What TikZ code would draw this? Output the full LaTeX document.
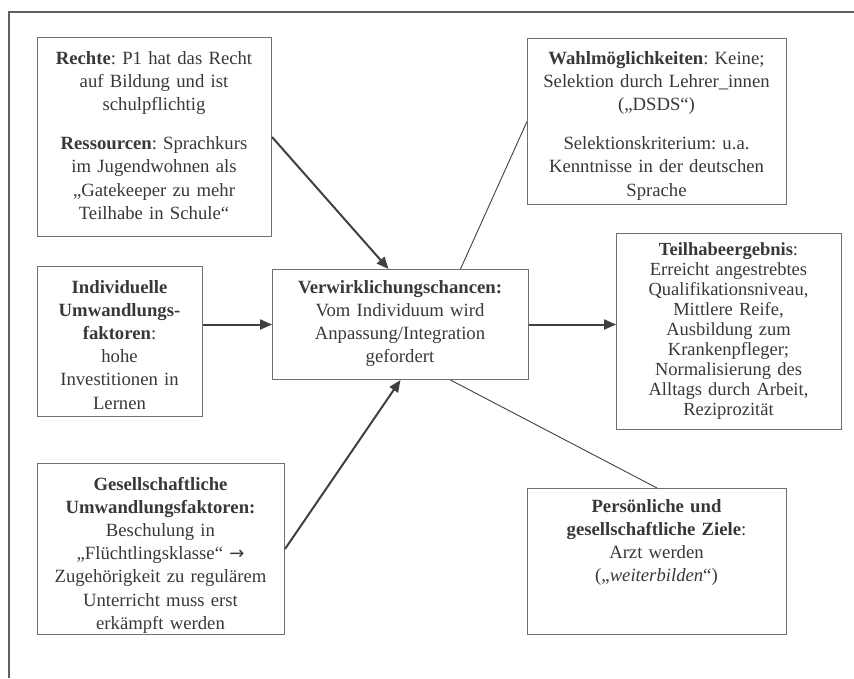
\documentclass[tikz,border=0pt]{standalone}
\usepackage{fontspec}
\setmainfont{Liberation Serif}
\newfontfamily\symfont{DejaVu Sans}
\usetikzlibrary{arrows.meta,calc}
\definecolor{txtc}{HTML}{383838}
\definecolor{boxc}{HTML}{707070}
\definecolor{arrc}{HTML}{404040}
\definecolor{framec}{HTML}{606060}
\frenchspacing
\begin{document}
\begin{tikzpicture}[x=1pt,y=-1pt,
  box/.style={draw=boxc, line width=1pt, inner sep=0pt, anchor=north west},
  txt/.style={text=txtc, align=center, inner sep=0pt, font=\fontsize{18.7}{23.2}\selectfont, anchor=base},
  tighttxt/.style={txt, font=\fontsize{18.5}{20.1}\selectfont},
  arr/.style={draw=arrc, line width=2pt, -{Triangle[length=12pt,width=10pt]}},
  thinline/.style={draw=arrc, line width=0.9pt}]
\useasboundingbox (0,0) rectangle (854,678);
\draw[framec, line width=1.6pt] (9,678) -- (9,12) -- (854,12);

% boxes
\node[box, minimum width=234pt, minimum height=199pt] (r) at (37,37) {};
\node[box, minimum width=259pt, minimum height=166pt] (w) at (527,38) {};
\node[box, minimum width=165pt, minimum height=150pt] (i) at (37,266) {};
\node[box, minimum width=256pt, minimum height=110pt] (c) at (272,269) {};
\node[box, minimum width=225pt, minimum height=196pt] (t) at (616,233) {};
\node[box, minimum width=247pt, minimum height=171pt] (g) at (37,463) {};
\node[box, minimum width=259pt, minimum height=146pt] (p) at (527,488) {};

% texts
\node[txt, text width=230pt] (rt) at (154,64) {\textbf{Rechte}: P1 hat das Recht\\ auf Bildung und ist\\ schulpflichtig\\[16pt]
\textbf{Ressourcen}: Sprachkurs\\ im Jugendwohnen als\\ „Gatekeeper zu mehr\\ Teilhabe in Schule“};
\node[txt, text width=255pt] (wt) at (656.5,64) {\textbf{Wahlmöglichkeiten}: Keine;\\ Selektion durch Lehrer\_innen\\ („DSDS“)\\[16pt]
Selektionskriterium: u.a.\\ Kenntnisse in der deutschen\\ Sprache};
\node[txt, text width=160pt] (it) at (119.5,293) {\textbf{Individuelle}\\ \textbf{Umwandlungs-}\\ \textbf{faktoren}:\\ hohe\\ Investitionen in\\ Lernen};
\node[txt, text width=250pt] (ct) at (400,293) {\textbf{Verwirklichungschancen:}\\ Vom Individuum wird\\ Anpassung/Integration\\ gefordert};
\node[tighttxt, text width=220pt] (tt) at (728.5,255) {\textbf{Teilhabeergebnis}:\\ Erreicht angestrebtes\\ Qualifikationsniveau,\\ Mittlere Reife,\\ Ausbildung zum\\ Krankenpfleger;\\ Normalisierung des\\ Alltags durch Arbeit,\\ Reziprozität};
\begin{scope}
\clip (g.north west) rectangle (g.south east);
\node[txt, text width=245pt] (gt) at (160.5,490) {\textbf{Gesellschaftliche}\\ \textbf{Umwandlungsfaktoren:}\\ Beschulung in\\ „Flüchtlingsklasse“ {\symfont\fontsize{18}{18}\selectfont →}\\ Zugehörigkeit zu regulärem\\ Unterricht muss erst\\ erkämpft werden};
\end{scope}
\node[txt, text width=255pt] (pt) at (656.5,512) {\textbf{Persönliche und}\\ \textbf{gesellschaftliche Ziele}:\\ Arzt werden\\ („\textit{weiterbilden}“)};

% connectors
\draw[arr] (r.east) -- ($(c.north)+(-12,0)$);
\draw[thinline] ($(c.north)+(60,0)$) -- (w.west);
\draw[arr] (i.east |- c.west) -- (c.west);
\draw[arr] (c.east) -- (c.east -| t.west);
\draw[arr] (g.east) -- (c.south);
\draw[thinline] ($(c.south)+(50,0)$) -- (p.north);
\end{tikzpicture}
\end{document}
